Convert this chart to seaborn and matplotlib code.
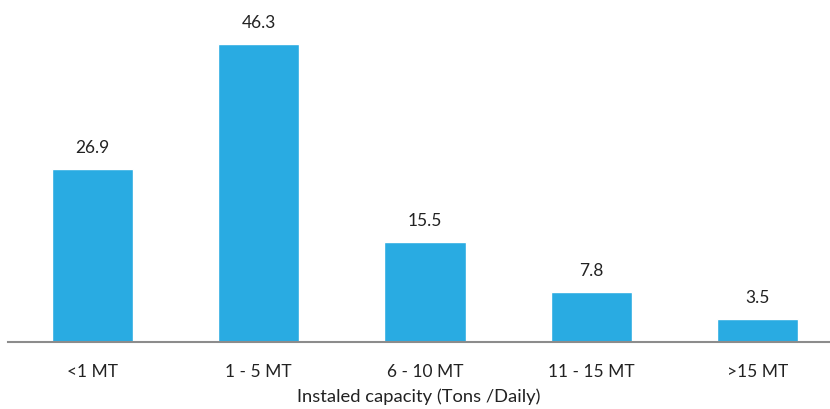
import matplotlib.pyplot as plt
import seaborn as sns
import pandas as pd

# data
categories = ['<1 MT', '1 - 5 MT', '6 - 10 MT', '11 - 15 MT', '>15 MT']
values = [26.9, 46.3, 15.5, 7.8, 3.5]

df = pd.DataFrame({'capacity': categories, 'share': values})

sns.set_style('white')
plt.rcParams['font.family'] = ['Lato', 'DejaVu Sans']

fig = plt.figure(figsize=(8.3, 4.09), dpi=100)
ax = fig.add_axes([8 / 830, 0.1638, 822 / 830, 0.8362])

sns.barplot(data=df, x='capacity', y='share', color='#29ABE2', saturation=1,
            width=0.49, ax=ax)

ax.bar_label(ax.containers[0], labels=[f'{v:.1f}' for v in values],
             padding=9.5, fontsize=12.5, color='#222222')

ax.set_xlim(-0.508, 4.436)
ax.set_ylim(0, 53.1)
ax.set_yticks([])
ax.set_ylabel('')
ax.set_xlabel('Instaled capacity (Tons /Daily)', fontsize=13.2, color='#222222', labelpad=6)
ax.tick_params(axis='x', length=0, pad=16, labelsize=12.5, labelcolor='#222222')

for side in ['top', 'right', 'left']:
    ax.spines[side].set_visible(False)
ax.spines['bottom'].set_color('#8c8c8c')
ax.spines['bottom'].set_linewidth(1.5)

fig.savefig('out.png', dpi=100)
